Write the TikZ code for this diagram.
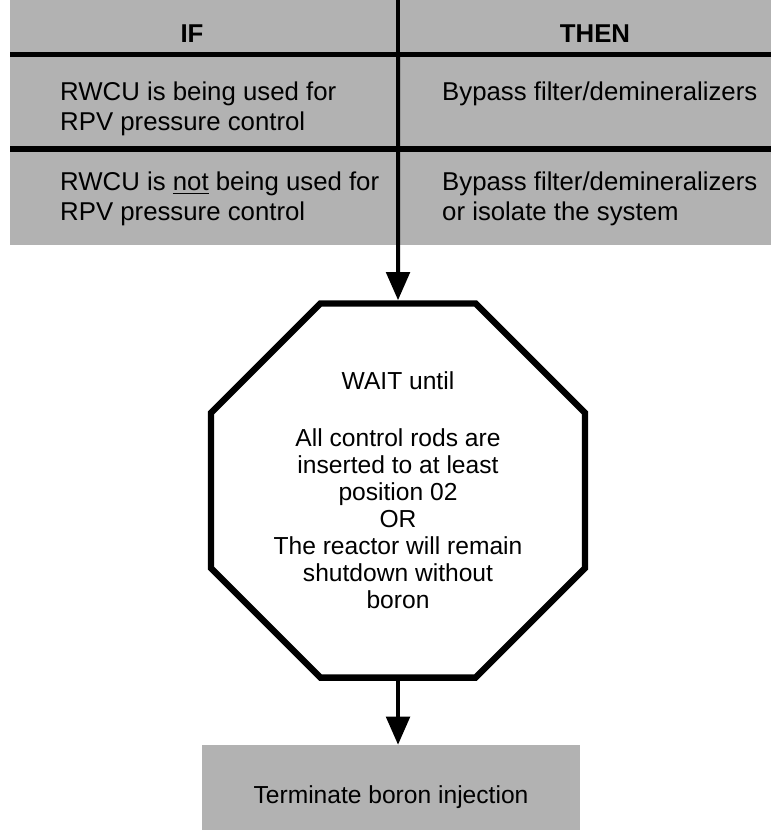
\documentclass[tikz,border=0pt]{standalone}
\usepackage{fontspec}
\setmainfont{Liberation Sans}
\usepackage{tikz}
\usetikzlibrary{shapes.geometric, positioning, arrows.meta, calc}
\definecolor{EOPGray}{RGB}{178,178,178}
\definecolor{EOPInk}{RGB}{0,0,0}

\begin{document}
\begin{tikzpicture}[
      head/.style={font=\fontsize{22}{25.5}\selectfont\bfseries,
                   anchor=base, inner sep=0pt},
      cell/.style={font=\fontsize{22}{25.5}\selectfont,
                   anchor=north west, align=left, inner sep=0pt},
      hrule/.style={line width=4.3pt, EOPInk},
      waitbox/.style={regular polygon, regular polygon sides=8,
                   minimum size=12.15cm, inner sep=0pt, draw=EOPInk,
                   line width=5.4pt, fill=white, align=center,
                   font=\fontsize{21}{23}\selectfont},
      termbox/.style={rectangle, fill=EOPGray, inner sep=0pt,
                   minimum width=11.34cm, minimum height=3.12cm,
                   font=\fontsize{21}{23}\selectfont},
      flow/.style={line width=3.4pt, EOPInk,
                   -{Triangle[length=24pt, width=20pt]}}
    ]
    \useasboundingbox (0,0) rectangle (23.13,-24.9);
    \clip (0,0) rectangle (23.13,-24.9);

    % IF / THEN table
    \fill[EOPGray] (0.3,0) rectangle (23.13,-7.35);
    \draw[hrule] (0.3,-1.635) -- (23.13,-1.635);
    \draw[hrule] (0.3,-4.47) -- (23.13,-4.47);
    \coordinate (split) at (11.94,0);

    \node[head] (ifhead)   at (5.76,-1.26)  {IF};
    \node[head] (thenhead) at (17.85,-1.26) {THEN};

    \node[cell] (if1)   at (1.8,-2.46)   {RWCU is being used for\\RPV pressure control};
    \node[cell] (then1) at (13.26,-2.46) {Bypass filter/demineralizers};
    \node[cell] (if2)   at (1.8,-5.16)   {RWCU is \underline{not} being used for\\RPV pressure control};
    \node[cell] (then2) at (13.26,-5.16) {Bypass filter/demineralizers\\or isolate the system};

    % Hold point
    \node[waitbox] (wait) at (11.94,-14.715)
          {WAIT until\\[0.9cm]All control rods are\\inserted to at least\\position 02\\OR\\
           The reactor will remain\\shutdown without\\boron};

    % Final action
    \node[termbox] (term) at (11.73,-23.91) {Terminate boron injection};

    % Arrows
    \draw[flow] (split) -- (wait.north);
    \draw[flow] (wait.south) -- (wait.south |- term.north);
  \end{tikzpicture}
\end{document}
